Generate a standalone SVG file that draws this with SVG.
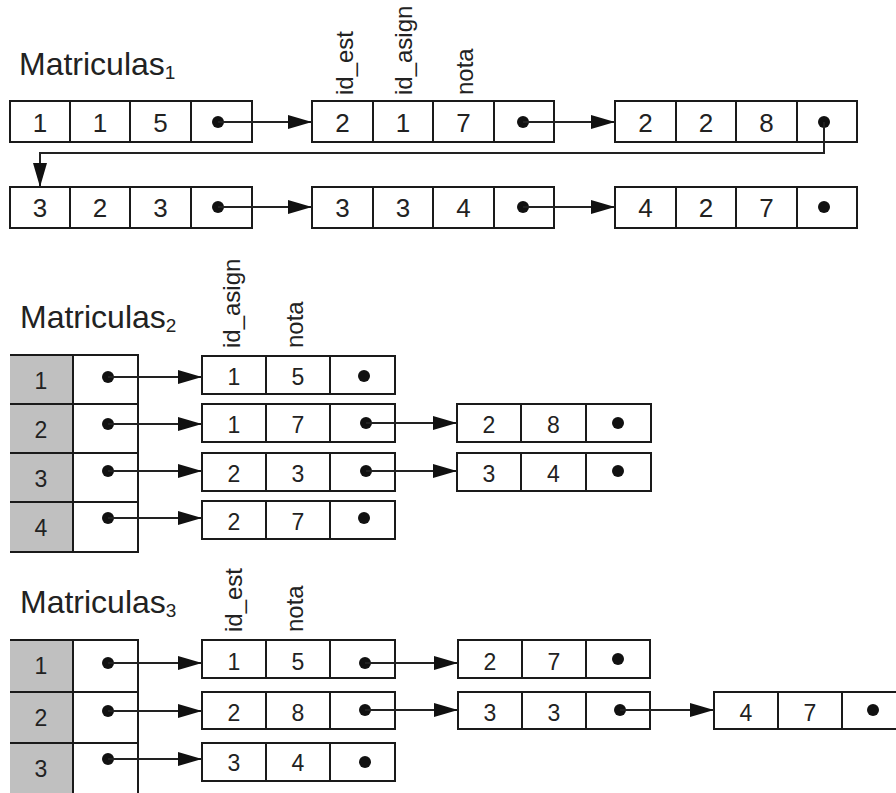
<svg xmlns="http://www.w3.org/2000/svg" width="896" height="793" viewBox="0 0 896 793">
  <style>
    .cell { fill: #fff; stroke: #1a1a1a; stroke-width: 2; }
    .key { fill: #c0c0c0; stroke: none; }
    .sep { stroke: #1a1a1a; stroke-width: 2; fill: none; }
    .txt { font-family: "Liberation Sans", Arial, Helvetica, sans-serif; fill: #222; }
    .n1 { font-size: 26px; text-anchor: middle; }
    .n2 { font-size: 23px; text-anchor: middle; }
    .title { font-size: 32px; }
    .sub { font-size: 19px; }
    .lbl { font-size: 24px; }
    .dot { fill: #111; }
    .link { fill: none; stroke: #222; stroke-width: 2; marker-end: url(#arrow); }
  </style>
  <defs>
    <marker id="arrow" markerUnits="userSpaceOnUse" markerWidth="24" markerHeight="14" refX="24" refY="7" orient="auto">
      <path d="M0,0 L24,7 L0,14 Z" fill="#111"/>
    </marker>
  </defs>

  <rect width="896" height="793" fill="#fff"/>

  <!-- ===== Matriculas 1 : single linked list of (id_est, id_asign, nota) ===== -->
  <text class="txt title" x="19" y="75">Matriculas<tspan class="sub" dy="4">1</tspan></text>
  <g id="m1-labels" class="txt lbl">
    <text transform="translate(353,95) rotate(-90)">id_est</text>
    <text transform="translate(412,95) rotate(-90)">id_asign</text>
    <text transform="translate(473,95) rotate(-90)">nota</text>
  </g>

  <g id="m1-n1">
    <rect class="cell" x="10" y="101" width="242" height="41"/>
    <path class="sep" d="M70,101V142M130,101V142M191,101V142"/>
    <g class="txt n1"><text x="40" y="131.5">1</text><text x="100" y="131.5">1</text><text x="160.5" y="131.5">5</text></g>
    <circle class="dot" cx="218" cy="122" r="6"/>
  </g>
  <g id="m1-n2">
    <rect class="cell" x="312" y="101" width="242" height="41"/>
    <path class="sep" d="M373,101V142M433,101V142M494,101V142"/>
    <g class="txt n1"><text x="342.5" y="131.5">2</text><text x="403" y="131.5">1</text><text x="463.5" y="131.5">7</text></g>
    <circle class="dot" cx="523" cy="122" r="6"/>
  </g>
  <g id="m1-n3">
    <rect class="cell" x="615" y="101" width="242" height="41"/>
    <path class="sep" d="M676,101V142M736,101V142M797,101V142"/>
    <g class="txt n1"><text x="645.5" y="131.5">2</text><text x="706" y="131.5">2</text><text x="766.5" y="131.5">8</text></g>
    <circle class="dot" cx="824" cy="122" r="6"/>
  </g>
  <g id="m1-n4">
    <rect class="cell" x="10" y="187" width="242" height="41"/>
    <path class="sep" d="M70,187V228M130,187V228M191,187V228"/>
    <g class="txt n1"><text x="40" y="217">3</text><text x="100" y="217">2</text><text x="160.5" y="217">3</text></g>
    <circle class="dot" cx="218" cy="207" r="6"/>
  </g>
  <g id="m1-n5">
    <rect class="cell" x="312" y="187" width="242" height="41"/>
    <path class="sep" d="M373,187V228M433,187V228M494,187V228"/>
    <g class="txt n1"><text x="342.5" y="217">3</text><text x="403" y="217">3</text><text x="463.5" y="217">4</text></g>
    <circle class="dot" cx="523" cy="207" r="6"/>
  </g>
  <g id="m1-n6">
    <rect class="cell" x="615" y="187" width="242" height="41"/>
    <path class="sep" d="M676,187V228M736,187V228M797,187V228"/>
    <g class="txt n1"><text x="645.5" y="217">4</text><text x="706" y="217">2</text><text x="766.5" y="217">7</text></g>
    <circle class="dot" cx="824" cy="207" r="6"/>
  </g>

  <!-- ===== Matriculas 2 : array indexed by student, lists of (id_asign, nota) ===== -->
  <text class="txt title" x="20" y="328">Matriculas<tspan class="sub" dy="4">2</tspan></text>
  <g id="m2-labels" class="txt lbl">
    <text transform="translate(240,348) rotate(-90)">id_asign</text>
    <text transform="translate(303,348) rotate(-90)">nota</text>
  </g>

  <g id="m2-table">
    <rect class="key" x="10" y="355" width="63" height="197"/>
    <rect class="cell" x="73" y="355" width="65" height="197"/>
    <path class="sep" d="M10,355H138M10,404H138M10,453H138M10,502H138M10,552H138M73,355V552"/>
    <g class="txt n2"><text x="41" y="389">1</text><text x="41" y="438">2</text><text x="41" y="487">3</text><text x="41" y="536">4</text></g>
    <circle class="dot" cx="108" cy="377" r="6"/>
    <circle class="dot" cx="108" cy="424" r="6"/>
    <circle class="dot" cx="108" cy="471" r="6"/>
    <circle class="dot" cx="108" cy="518" r="6"/>
  </g>

  <g id="m2-a1">
    <rect class="cell" x="202" y="356" width="193" height="38"/>
    <path class="sep" d="M266,356V394M330,356V394"/>
    <g class="txt n2"><text x="234" y="384.5">1</text><text x="298" y="384.5">5</text></g>
    <circle class="dot" cx="364" cy="376" r="6"/>
  </g>
  <g id="m2-b1">
    <rect class="cell" x="202" y="404" width="193" height="38"/>
    <path class="sep" d="M266,404V442M330,404V442"/>
    <g class="txt n2"><text x="234" y="432.5">1</text><text x="298" y="432.5">7</text></g>
    <circle class="dot" cx="366" cy="423" r="6"/>
  </g>
  <g id="m2-b2">
    <rect class="cell" x="457" y="404" width="194" height="38"/>
    <path class="sep" d="M521,404V442M586,404V442"/>
    <g class="txt n2"><text x="489" y="432.5">2</text><text x="553.5" y="432.5">8</text></g>
    <circle class="dot" cx="618" cy="423" r="6"/>
  </g>
  <g id="m2-c1">
    <rect class="cell" x="202" y="453" width="193" height="38"/>
    <path class="sep" d="M266,453V491M330,453V491"/>
    <g class="txt n2"><text x="234" y="481.5">2</text><text x="298" y="481.5">3</text></g>
    <circle class="dot" cx="366" cy="471" r="6"/>
  </g>
  <g id="m2-c2">
    <rect class="cell" x="457" y="453" width="194" height="38"/>
    <path class="sep" d="M521,453V491M586,453V491"/>
    <g class="txt n2"><text x="489" y="481.5">3</text><text x="553.5" y="481.5">4</text></g>
    <circle class="dot" cx="618" cy="471" r="6"/>
  </g>
  <g id="m2-d1">
    <rect class="cell" x="202" y="501" width="193" height="38"/>
    <path class="sep" d="M266,501V539M330,501V539"/>
    <g class="txt n2"><text x="234" y="529.5">2</text><text x="298" y="529.5">7</text></g>
    <circle class="dot" cx="364" cy="518" r="6"/>
  </g>

  <!-- ===== Matriculas 3 : array indexed by subject, lists of (id_est, nota) ===== -->
  <text class="txt title" x="20" y="613">Matriculas<tspan class="sub" dy="4">3</tspan></text>
  <g id="m3-labels" class="txt lbl">
    <text transform="translate(242,632) rotate(-90)">id_est</text>
    <text transform="translate(303,632) rotate(-90)">nota</text>
  </g>

  <g id="m3-table">
    <rect class="key" x="10" y="640" width="63" height="160"/>
    <rect class="cell" x="73" y="640" width="65" height="160"/>
    <path class="sep" d="M10,640H138M10,692H138M10,743H138M73,640V800"/>
    <g class="txt n2"><text x="41" y="674">1</text><text x="41" y="726">2</text><text x="41" y="777">3</text></g>
    <circle class="dot" cx="108" cy="663" r="6"/>
    <circle class="dot" cx="108" cy="711" r="6"/>
    <circle class="dot" cx="108" cy="759" r="6"/>
  </g>

  <g id="m3-a1">
    <rect class="cell" x="202" y="640" width="193" height="38"/>
    <path class="sep" d="M266,640V678M330,640V678"/>
    <g class="txt n2"><text x="234" y="669.5">1</text><text x="298" y="669.5">5</text></g>
    <circle class="dot" cx="365" cy="663" r="6"/>
  </g>
  <g id="m3-a2">
    <rect class="cell" x="458" y="640" width="192" height="38"/>
    <path class="sep" d="M522,640V678M586,640V678"/>
    <g class="txt n2"><text x="490" y="669.5">2</text><text x="554" y="669.5">7</text></g>
    <circle class="dot" cx="618" cy="659" r="6"/>
  </g>
  <g id="m3-b1">
    <rect class="cell" x="202" y="692" width="193" height="37"/>
    <path class="sep" d="M266,692V729M330,692V729"/>
    <g class="txt n2"><text x="234" y="720.5">2</text><text x="298" y="720.5">8</text></g>
    <circle class="dot" cx="365" cy="710" r="6"/>
  </g>
  <g id="m3-b2">
    <rect class="cell" x="458" y="692" width="192" height="37"/>
    <path class="sep" d="M522,692V729M586,692V729"/>
    <g class="txt n2"><text x="490" y="720.5">3</text><text x="554" y="720.5">3</text></g>
    <circle class="dot" cx="620" cy="710" r="6"/>
  </g>
  <g id="m3-b3">
    <rect class="cell" x="714" y="692" width="194" height="37"/>
    <path class="sep" d="M778,692V729M842,692V729"/>
    <g class="txt n2"><text x="746" y="720.5">4</text><text x="810" y="720.5">7</text></g>
    <circle class="dot" cx="873" cy="710" r="6"/>
  </g>
  <g id="m3-c1">
    <rect class="cell" x="202" y="743" width="193" height="38"/>
    <path class="sep" d="M266,743V781M330,743V781"/>
    <g class="txt n2"><text x="234" y="771">3</text><text x="298" y="771">4</text></g>
    <circle class="dot" cx="365" cy="762" r="6"/>
  </g>

  <!-- ===== pointer connectors ===== -->
  <g id="connectors">
    <path class="link" d="M218,122H312"/>
    <path class="link" d="M523,122H615"/>
    <path class="link" d="M824,122V153H40V187"/>
    <path class="link" d="M218,207H312"/>
    <path class="link" d="M523,207H615"/>

    <path class="link" d="M108,377H202"/>
    <path class="link" d="M108,424H202"/>
    <path class="link" d="M108,471H202"/>
    <path class="link" d="M108,518H202"/>
    <path class="link" d="M366,423H457"/>
    <path class="link" d="M366,471H457"/>

    <path class="link" d="M108,663H202"/>
    <path class="link" d="M108,711H202"/>
    <path class="link" d="M108,759H202"/>
    <path class="link" d="M365,663H458"/>
    <path class="link" d="M365,710H458"/>
    <path class="link" d="M620,710H714"/>
  </g>
</svg>
